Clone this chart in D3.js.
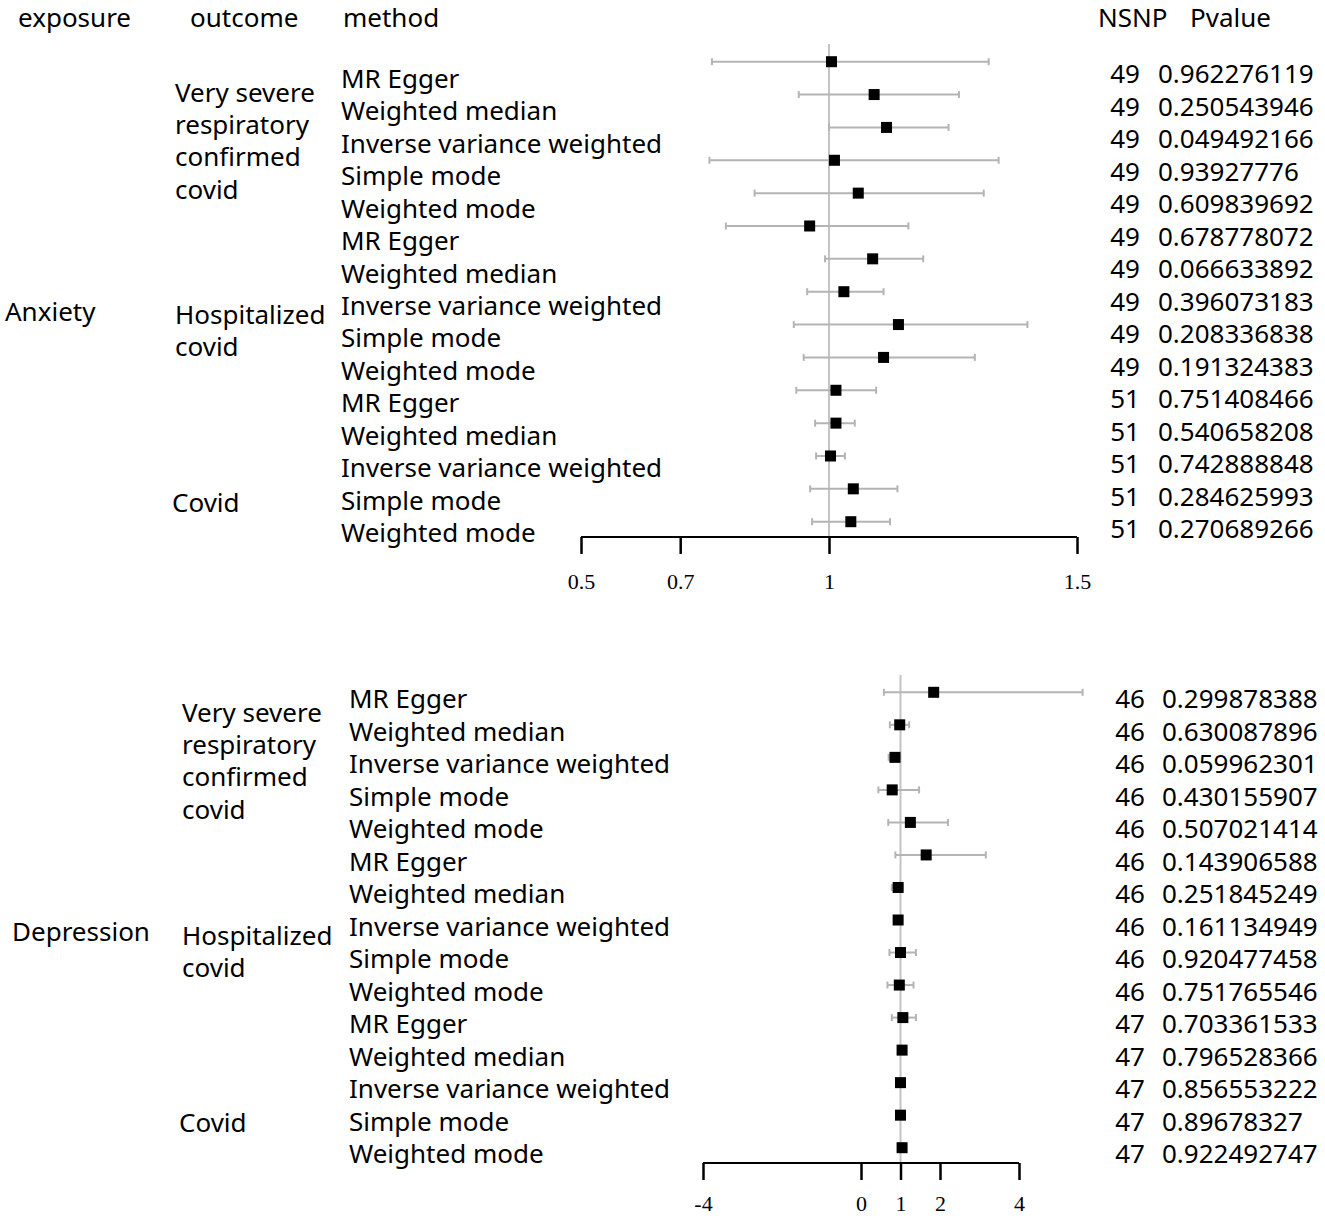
<!DOCTYPE html>
<html>
<head>
<meta charset="utf-8">
<script src="https://cdn.jsdelivr.net/npm/d3@7"></script>
<style>
  body { margin: 0; background: #fff; }
  svg { display: block; }
  .lab { font-family: 'Noto Sans', sans-serif; font-size: 26px; fill: #000; }
</style>
</head>
<body>
<script>
// ---- data ----
const methods = ['MR Egger', 'Weighted median', 'Inverse variance weighted', 'Simple mode', 'Weighted mode']
const headers = ['exposure', 'outcome', 'method', 'NSNP', 'Pvalue']
const outcomeLabels = [
  ['Very severe', 'respiratory', 'confirmed', 'covid'],
  ['Hospitalized', 'covid'],
  ['Covid']
]

// Anxiety
const anxOR = [1.005, 1.091, 1.116, 1.011, 1.059, 0.961, 1.088, 1.030, 1.140, 1.110, 1.014, 1.014, 1.003, 1.049, 1.044]
const anxLo = [0.764, 0.939, 1.000, 0.759, 0.850, 0.792, 0.992, 0.956, 0.929, 0.949, 0.934, 0.972, 0.974, 0.962, 0.966]
const anxHi = [1.322, 1.262, 1.241, 1.342, 1.312, 1.160, 1.190, 1.110, 1.400, 1.294, 1.095, 1.052, 1.032, 1.138, 1.123]
const anxNSNP = [49, 49, 49, 49, 49, 49, 49, 49, 49, 49, 51, 51, 51, 51, 51]
const anxP = ['0.962276119', '0.250543946', '0.049492166', '0.93927776', '0.609839692',
  '0.678778072', '0.066633892', '0.396073183', '0.208336838', '0.191324383',
  '0.751408466', '0.540658208', '0.742888848', '0.284625993', '0.270689266']
const anxTicks = [0.5, 0.7, 1, 1.5]

// Depression
const depOR = [1.84, 0.98, 0.86, 0.79, 1.25, 1.65, 0.94, 0.94, 1.00, 0.97, 1.06, 1.04, 1.00, 1.00, 1.04]
const depLo = [0.58, 0.73, 0.70, 0.44, 0.69, 0.87, 0.78, 0.85, 0.72, 0.67, 0.78, 0.95, 0.93, 0.93, 0.95]
const depHi = [5.61, 1.22, 0.99, 1.47, 2.20, 3.16, 1.05, 1.02, 1.39, 1.33, 1.39, 1.12, 1.07, 1.07, 1.12]
const depNSNP = [46, 46, 46, 46, 46, 46, 46, 46, 46, 46, 47, 47, 47, 47, 47]
const depP = ['0.299878388', '0.630087896', '0.059962301', '0.430155907', '0.507021414',
  '0.143906588', '0.251845249', '0.161134949', '0.920477458', '0.751765546',
  '0.703361533', '0.796528366', '0.856553222', '0.89678327', '0.922492747']
const depTicks = [-4, 0, 1, 2, 4]

// ---- layout ----
const W = 1325, H = 1218
const svg = d3.select('body').append('svg').attr('width', W).attr('height', H)

const panels = [
  {
    exposure: 'Anxiety', or: anxOR, lo: anxLo, hi: anxHi, nsnp: anxNSNP, p: anxP, ticks: anxTicks,
    xDomain: [0.5, 1.5], xRange: [581, 1077],
    markY: [61.7, 521.7], textY: [78, 532], numY: [73, 528],
    refTop: 44, axisY: 537, tickY: 581,
    expX: 5, outX: 175, covidX: 172, methX: 341, nsnpX: 1140, pX: 1158
  },
  {
    exposure: 'Depression', or: depOR, lo: depLo, hi: depHi, nsnp: depNSNP, p: depP, ticks: depTicks,
    xDomain: [-4, 4], xRange: [703, 1019],
    markY: [692.3, 1147.7], textY: [698, 1153], numY: [698, 1153],
    refTop: 675, axisY: 1163, tickY: 1203,
    expX: 12, outX: 182, covidX: 179, methX: 349, nsnpX: 1145, pX: 1162
  }
]

// header row
const headX = [18, 190, 343, 1098, 1190]
svg.selectAll('text.head').data(headers).join('text')
  .attr('class', 'lab head')
  .attr('x', (d, i) => headX[i]).attr('y', 17)
  .attr('dominant-baseline', 'central')
  .text(d => d)

const groupStart = [0.42, 7.28, 13.06]   // in row units
const lineH = 32.4

panels.forEach(p => {
  const n = p.or.length
  const x = d3.scaleLinear().domain(p.xDomain).range(p.xRange)
  const yM = d3.scaleLinear().domain([0, n - 1]).range(p.markY)
  const yT = d3.scaleLinear().domain([0, n - 1]).range(p.textY)
  const yN = d3.scaleLinear().domain([0, n - 1]).range(p.numY)
  const g = svg.append('g')

  // reference line at 1
  g.append('line')
    .attr('x1', x(1)).attr('x2', x(1))
    .attr('y1', p.refTop).attr('y2', p.axisY)
    .attr('stroke', '#c4c4c4').attr('stroke-width', 2)

  const rows = d3.range(n)

  // whiskers
  g.selectAll('line.ci').data(rows).join('line')
    .attr('x1', i => x(p.lo[i])).attr('x2', i => x(p.hi[i]))
    .attr('y1', i => yM(i)).attr('y2', i => yM(i))
    .attr('stroke', '#b4b4b4').attr('stroke-width', 2)
  // caps
  ;['lo', 'hi'].forEach(k => {
    g.selectAll('line.cap-' + k).data(rows).join('line')
      .attr('x1', i => x(p[k][i])).attr('x2', i => x(p[k][i]))
      .attr('y1', i => yM(i) - 3.5).attr('y2', i => yM(i) + 3.5)
      .attr('stroke', '#b4b4b4').attr('stroke-width', 2)
  })
  // point estimates
  const sq = 11
  g.selectAll('rect.pt').data(rows).join('rect')
    .attr('x', i => x(p.or[i]) - sq / 2).attr('y', i => yM(i) - sq / 2)
    .attr('width', sq).attr('height', sq).attr('fill', '#000')

  // x axis
  const axis = g.append('g')
    .attr('transform', `translate(0,${p.axisY})`)
    .call(d3.axisBottom(x).tickValues(p.ticks).tickSize(17).tickSizeOuter(0).tickFormat(d => String(d)))
  axis.select('.domain').attr('stroke', '#000').attr('stroke-width', 2)
    .attr('d', `M${p.xRange[0]},0H${p.xRange[1]}`)
  axis.selectAll('.tick line').attr('stroke', '#000').attr('stroke-width', 2.5)
  axis.selectAll('.tick text')
    .style('font-family', "'Liberation Serif', serif").style('font-size', '22px').attr('fill', '#000')
    .attr('y', p.tickY - p.axisY).attr('dy', '0.35em')

  // method labels
  g.selectAll('text.meth').data(rows).join('text')
    .attr('class', 'lab')
    .attr('x', p.methX).attr('y', i => yT(i))
    .attr('dominant-baseline', 'central')
    .text(i => methods[i % methods.length])

  // NSNP and P value
  g.selectAll('text.nsnp').data(rows).join('text')
    .attr('class', 'lab')
    .attr('x', p.nsnpX).attr('y', i => yN(i))
    .attr('text-anchor', 'end').attr('dominant-baseline', 'central')
    .text(i => p.nsnp[i])
  g.selectAll('text.pv').data(rows).join('text')
    .attr('class', 'lab')
    .attr('x', p.pX).attr('y', i => yN(i))
    .attr('dominant-baseline', 'central')
    .text(i => p.p[i])

  // outcome groups
  outcomeLabels.forEach((lines, gi) => {
    lines.forEach((t, li) => {
      g.append('text').attr('class', 'lab')
        .attr('x', gi === 2 ? p.covidX : p.outX)
        .attr('y', yT(groupStart[gi]) + li * lineH)
        .attr('dominant-baseline', 'central')
        .text(t)
    })
  })

  // exposure
  g.append('text').attr('class', 'lab')
    .attr('x', p.expX).attr('y', yT(7.18))
    .attr('dominant-baseline', 'central')
    .text(p.exposure)
})
</script>
</body>
</html>
